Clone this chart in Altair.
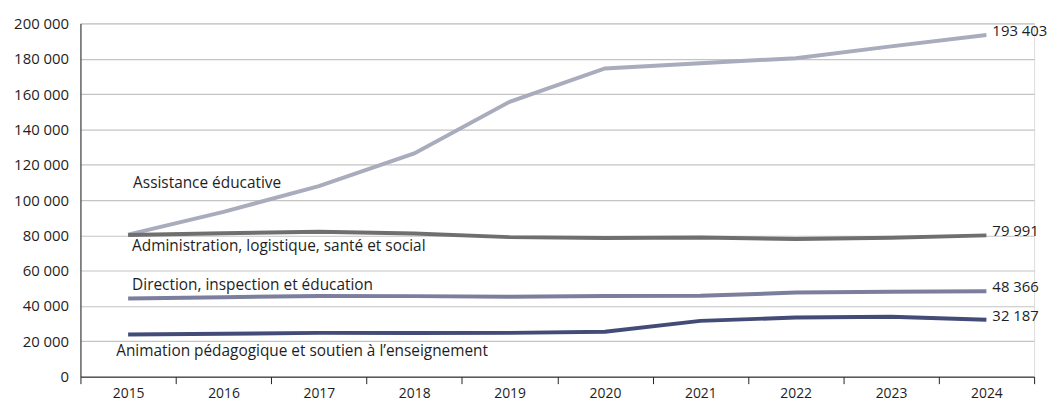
import altair as alt
import pandas as pd

years = ["2015", "2016", "2017", "2018", "2019", "2020", "2021", "2022", "2023", "2024"]
series = [
    "Assistance éducative",
    "Administration, logistique, santé et social",
    "Direction, inspection et éducation",
    "Animation pédagogique et soutien à l’enseignement",
]
assistance = [80400, 93300, 107900, 126400, 155600, 174500, 177500, 180300, 187000, 193403]
administration = [80200, 81200, 82000, 81000, 79000, 78500, 78800, 77900, 78700, 79991]
direction = [44300, 45000, 45700, 45600, 45300, 45700, 45800, 47600, 48100, 48366]
animation = [23900, 24300, 24800, 24700, 24800, 25500, 31600, 33500, 33900, 32187]
colors = ["#a8acbc", "#6f6f6f", "#7b7f9d", "#434b77"]
end_labels = ["193 403", "79 991", "48 366", "32 187"]
label_values = [109500, 73800, 52000, 14800]
label_dx = [5, 4, 4, -12]

values = [assistance, administration, direction, animation]
rows = []
for s, vals in zip(series, values):
    for y, v in zip(years, vals):
        rows.append({"year": y, "value": v, "series": s})
df = pd.DataFrame(rows)

ends = pd.DataFrame({
    "year": [years[-1]] * 4,
    "value": [v[-1] for v in values],
    "label": end_labels,
    "series": series,
})
labs = pd.DataFrame({
    "year": [years[0]] * 4,
    "value": label_values,
    "label": series,
})

FONT = "Open Sans"
TXT = "#1e1e1e"
x = alt.X("year:O", title=None, sort=years,
          scale=alt.Scale(paddingInner=0, paddingOuter=0),
          axis=alt.Axis(labelAngle=0, tickBand="extent", domainColor="#222",
                        tickColor="#222", tickSize=7, labelFontSize=14,
                        labelColor=TXT, labelFont=FONT, labelPadding=3))
y = alt.Y("value:Q", title=None,
          scale=alt.Scale(domain=[0, 200000]),
          axis=alt.Axis(values=list(range(0, 200001, 20000)), format=",d",
                        grid=True, gridColor="#c4c4c4", gridWidth=1.2,
                        ticks=False, domainColor="#222", labelFontSize=15,
                        labelColor=TXT, labelFont=FONT, labelPadding=12,
                        labelOverlap=False))

color = alt.Color("series:N", scale=alt.Scale(domain=series, range=colors), legend=None)

lines = alt.Chart(df).mark_line(strokeWidth=4).encode(x=x, y=y, color=color)

endtxt = alt.Chart(ends).mark_text(align="left", dx=6, dy=-4, fontSize=15,
                                   font=FONT, color=TXT).encode(
    x=x, y=y, text="label:N")

labtxt = alt.layer(*[
    alt.Chart(labs.iloc[[i]]).mark_text(align="left", dx=label_dx[i], fontSize=15.5,
                                         font=FONT, color=TXT).encode(
        x=x, y=y, text="label:N")
    for i in range(4)
])

chart = alt.layer(lines, endtxt, labtxt).properties(
    width=961, height=356,
    autosize=alt.AutoSizeParams(type="none"),
    padding={"left": 73, "top": 14, "right": 13, "bottom": 26},
).configure_view(stroke=None).configure(
    locale={"number": {"decimal": ",", "thousands": "\u00a0", "grouping": [3], "currency": ["", " €"]}}
)

chart.save("out.html", embed_options={"renderer": "svg", "actions": False})
